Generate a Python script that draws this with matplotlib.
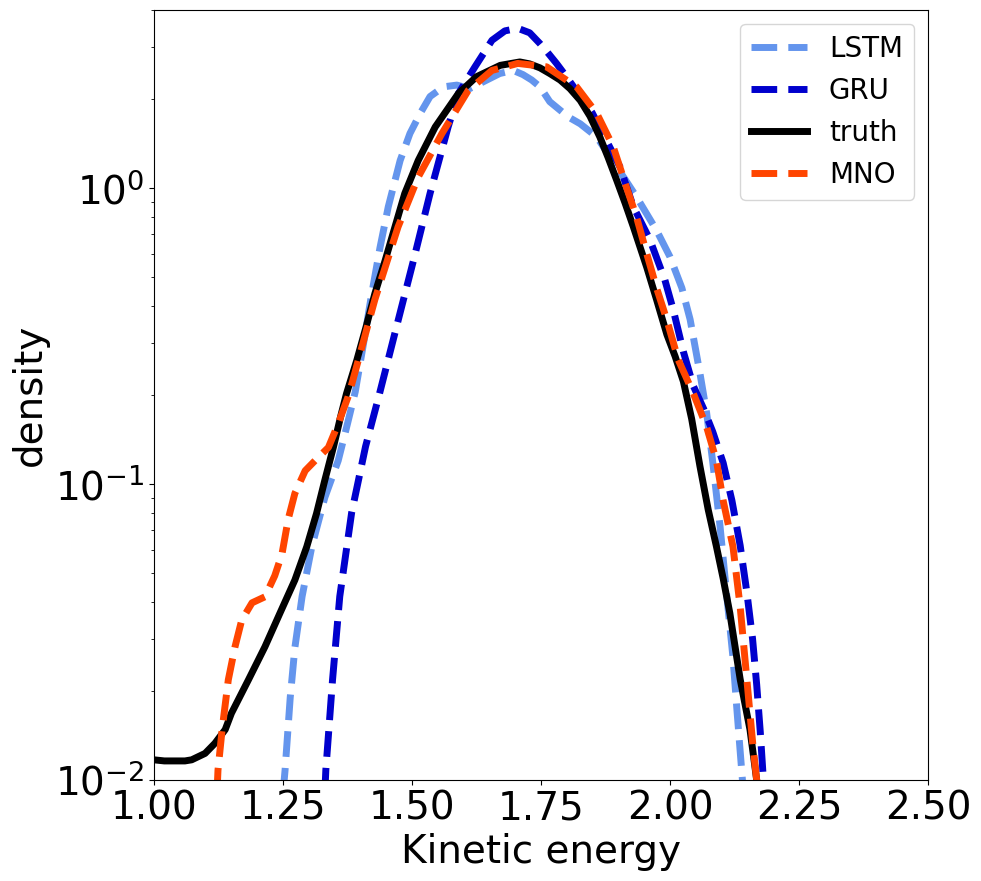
import matplotlib
matplotlib.use("Agg")
import matplotlib.pyplot as plt

# Kinetic energy (x) and density (y)
truth_x = [1.000, 1.020, 1.040, 1.060, 1.073, 1.099, 1.118, 1.138, 1.150, 1.183,
           1.215, 1.244, 1.273, 1.296, 1.315, 1.331, 1.348, 1.362, 1.373, 1.393,
           1.411, 1.428, 1.448, 1.467, 1.486, 1.512, 1.545, 1.590, 1.625, 1.671,
           1.709, 1.728, 1.748, 1.767, 1.787, 1.806, 1.826, 1.845, 1.864, 1.880,
           1.897, 1.913, 1.929, 1.955, 1.974, 1.994, 2.010, 2.026, 2.042, 2.058,
           2.074, 2.090, 2.103, 2.116, 2.136, 2.155, 2.168, 2.180]
truth_y = [0.0117, 0.0116, 0.0116, 0.0116, 0.0117, 0.0123, 0.0133, 0.0148, 0.0168, 0.0218,
           0.0282, 0.0366, 0.0474, 0.0614, 0.0796, 0.103, 0.134, 0.170, 0.202, 0.262,
           0.34, 0.44, 0.57, 0.74, 0.96, 1.24, 1.61, 2.09, 2.38, 2.60,
           2.67, 2.63, 2.55, 2.44, 2.32, 2.17, 1.98, 1.75, 1.49, 1.27,
           1.06, 0.89, 0.74, 0.54, 0.42, 0.32, 0.27, 0.222, 0.166, 0.115,
           0.082, 0.0615, 0.048, 0.0366, 0.0219, 0.0148, 0.0100, 0.0072]

lstm_x = [1.250, 1.254, 1.264, 1.273, 1.287, 1.306, 1.331, 1.357, 1.375, 1.390,
          1.409, 1.420, 1.438, 1.454, 1.477, 1.496, 1.516, 1.535, 1.561, 1.587,
          1.612, 1.645, 1.670, 1.696, 1.715, 1.732, 1.748, 1.767, 1.803, 1.826,
          1.858, 1.897, 1.935, 1.974, 2.000, 2.023, 2.039, 2.058, 2.071, 2.083,
          2.097, 2.110, 2.122, 2.130, 2.136, 2.142]
lstm_y = [0.0090, 0.0108, 0.019, 0.028, 0.0417, 0.0616, 0.090, 0.12, 0.16, 0.205,
          0.32, 0.42, 0.63, 0.865, 1.24, 1.53, 1.79, 2.04, 2.20, 2.23,
          2.17, 2.32, 2.44, 2.50, 2.42, 2.32, 2.20, 1.96, 1.74, 1.65,
          1.49, 1.18, 0.935, 0.72, 0.586, 0.46, 0.36, 0.237, 0.174, 0.118,
          0.072, 0.042, 0.026, 0.017, 0.0125, 0.0092]

gru_x = [1.331, 1.333, 1.346, 1.360, 1.383, 1.410, 1.437, 1.470, 1.503, 1.535,
         1.570, 1.590, 1.622, 1.655, 1.680, 1.705, 1.728, 1.748, 1.761, 1.780,
         1.797, 1.849, 1.903, 1.929, 1.961, 1.990, 2.006, 2.026, 2.045, 2.065,
         2.083, 2.103, 2.120, 2.136, 2.149, 2.160, 2.168, 2.175, 2.181, 2.186]
gru_y = [0.0090, 0.0108, 0.0218, 0.0417, 0.080, 0.134, 0.202, 0.34, 0.571, 0.96,
         1.61, 2.09, 2.57, 3.16, 3.40, 3.47, 3.35, 3.08, 2.90, 2.64,
         2.41, 1.80, 1.18, 0.865, 0.67, 0.49, 0.39, 0.28, 0.215, 0.180,
         0.150, 0.118, 0.088, 0.062, 0.043, 0.030, 0.021, 0.0145, 0.0100, 0.0075]

mno_x = [1.122, 1.124, 1.132, 1.144, 1.157, 1.170, 1.190, 1.215, 1.234, 1.248,
         1.260, 1.273, 1.293, 1.312, 1.338, 1.357, 1.376, 1.384, 1.428, 1.473,
         1.512, 1.558, 1.609, 1.655, 1.705, 1.761, 1.819, 1.858, 1.890, 1.913,
         1.935, 1.955, 1.974, 1.994, 2.016, 2.045, 2.071, 2.090, 2.103, 2.122,
         2.136, 2.149, 2.161, 2.168, 2.172]
mno_y = [0.0090, 0.0108, 0.0148, 0.0218, 0.0282, 0.0347, 0.0397, 0.0416, 0.049, 0.058,
         0.076, 0.093, 0.111, 0.120, 0.133, 0.160, 0.197, 0.22, 0.42, 0.74,
         1.09, 1.53, 2.14, 2.50, 2.64, 2.57, 2.20, 1.79, 1.38, 1.04,
         0.80, 0.60, 0.46, 0.358, 0.263, 0.203, 0.156, 0.12, 0.088, 0.0615,
         0.0385, 0.0218, 0.0129, 0.0100, 0.0080]

x_ticks = [1.00, 1.25, 1.50, 1.75, 2.00, 2.25, 2.50]

fig = plt.figure(figsize=(9.81, 8.81), dpi=100)
ax = fig.add_axes([154/981, 1-780/881, (928-154)/981, (780-10)/881])

lw = 5
ax.plot(lstm_x, lstm_y, '--', color='cornflowerblue', lw=lw, label='LSTM')
ax.plot(gru_x, gru_y, '--', color='mediumblue', lw=lw, label='GRU')
ax.plot(truth_x, truth_y, '-', color='black', lw=lw, label='truth')
ax.plot(mno_x, mno_y, '--', color='orangered', lw=lw, label='MNO')

ax.set_yscale('log')
ax.set_xlim(1.0, 2.5)
ax.set_ylim(0.01, 4.0)
ax.set_xticks(x_ticks)
ax.set_xticklabels([f"{t:.2f}" for t in x_ticks])
ax.tick_params(axis='both', which='major', labelsize=28)
ax.set_xlabel('Kinetic energy', fontsize=28)
ax.set_ylabel('density', fontsize=28)
ax.legend(loc='upper right', fontsize=20)

fig.savefig('out.png', dpi=100)
